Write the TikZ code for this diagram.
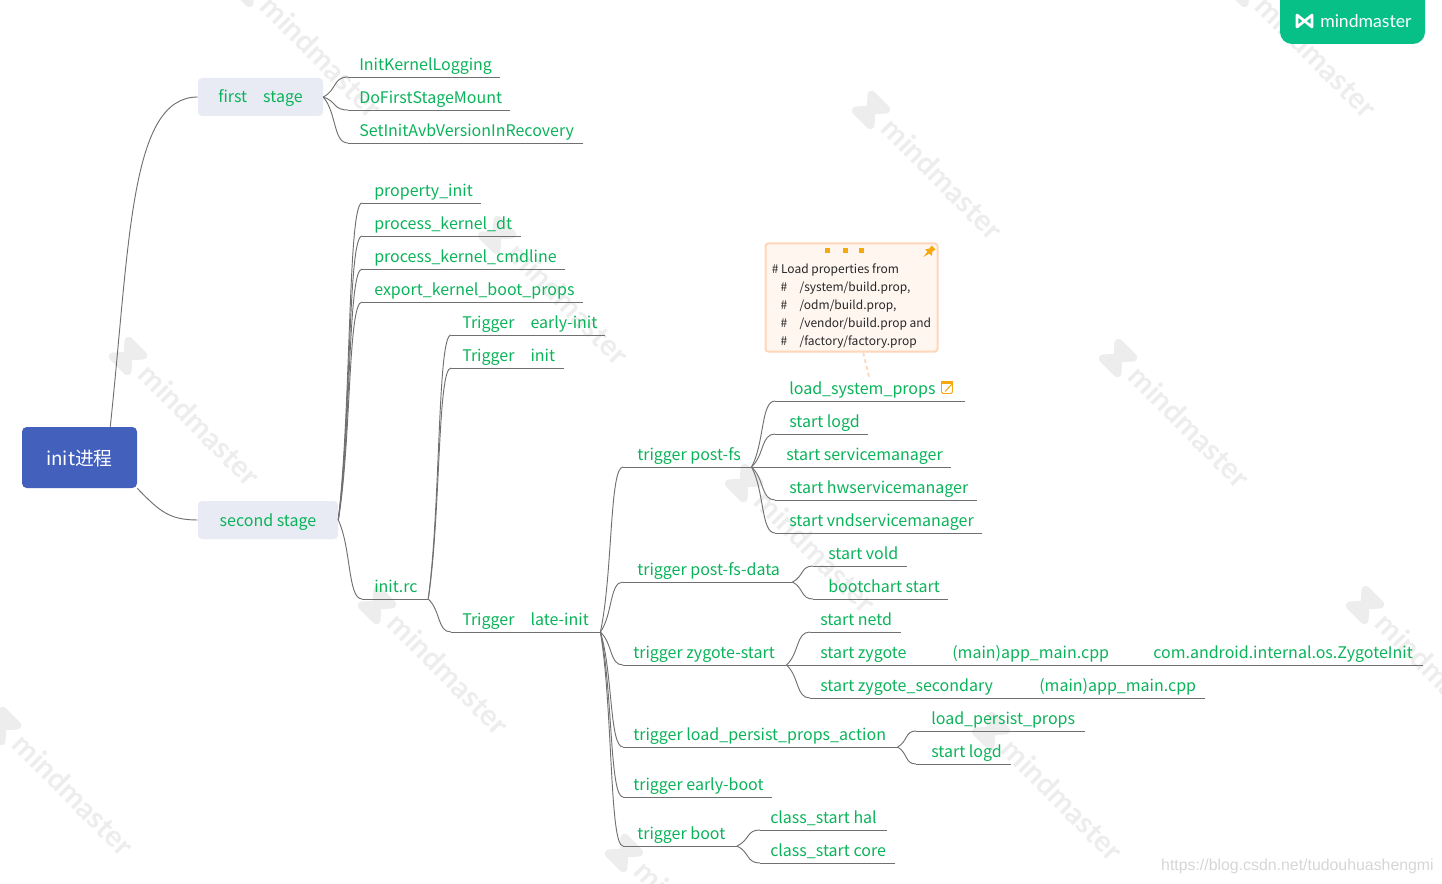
\documentclass[tikz,border=0pt]{standalone}
\usepackage{xcolor}
\usepackage{fontspec}
\usepackage{tikz}
\usetikzlibrary{calc}
\setmainfont{Noto Sans CJK SC}
\newfontfamily\markfont{Lato}
\newfontfamily\urlfont{Liberation Sans}

\definecolor{topicgreen}{HTML}{0AB35A}
\definecolor{linegray}{HTML}{707070}
\definecolor{rootblue}{HTML}{4260BC}
\definecolor{stagefill}{HTML}{E9EBF4}
\definecolor{notefill}{HTML}{FFF6F0}
\definecolor{noteline}{HTML}{FFD6B8}
\definecolor{noteorange}{HTML}{F6A90F}
\definecolor{badgegreen}{HTML}{06C088}
\definecolor{wmgray}{HTML}{EDEDED}
\definecolor{urlgray}{HTML}{D6D6D6}

\newdimen\pxu
\pxu=0.75pt

\begin{document}
\begin{tikzpicture}[x=0.75pt, y=-0.75pt]
    \tikzstyle{link} = [draw=linegray, line width=0.7pt]
    \tikzstyle{branch} = [to path={let \p1=(\tikztostart), \p2=(\tikztotarget) in
        .. controls ({\x1+0.55*(\x2-\x1)},{\y1+0.35*(\y2-\y1)}) and ({\x1+0.4*(\x2-\x1)},\y2) .. (\tikztotarget)}]
    \tikzset{leaf/.style n args={2}{anchor=south west, inner xsep=0pt, inner ysep=0pt,
        text=topicgreen, font=\fontsize{12pt}{14pt}\selectfont, text height=10pt, text depth=4.5pt,
        execute at begin node={\hspace*{#1\pxu}}, execute at end node={\hspace*{\dimexpr#2\pxu-0.5pt\relax}},
        append after command={(\tikzlastnode.south west) edge[link] (\tikzlastnode.south east)}}}
    \tikzstyle{stage} = [fill=stagefill, rounded corners=3pt, text=topicgreen, minimum height=38\pxu,
        font=\fontsize{12pt}{14pt}\selectfont, text height=11pt, text depth=2pt, inner sep=0pt]
    \tikzstyle{root} = [fill=rootblue, rounded corners=3.5pt, text=white, minimum width=115\pxu, minimum height=61\pxu,
        font=\fontsize{14.1pt}{18pt}\selectfont, text height=12.5pt, text depth=1pt, inner sep=0pt]
    \tikzstyle{notebox} = [draw=noteline, line width=1.5pt, fill=notefill, rounded corners=2pt,
        minimum width=172\pxu, minimum height=108\pxu, inner sep=0pt]
    \tikzstyle{notetext} = [anchor=west, inner sep=0pt, align=left, text=black!85,
        font=\fontsize{9pt}{13.5pt}\selectfont]
    \tikzstyle{notedot} = [fill=noteorange, minimum size=5\pxu, inner sep=0pt]
    \tikzstyle{wmtext} = [anchor=west, rotate=-45, text=wmgray, inner sep=0pt, font=\markfont\bfseries\fontsize{22.3pt}{24pt}\selectfont]
    \tikzstyle{bowtie} = [line join=round, line cap=round]

    \useasboundingbox (0,0) rectangle (1442,884);
    \clip (0,0) rectangle (1442,884);

    % watermarks
    \foreach \wx/\wy [count=\wi] in {128/356, 377/605, 624/853, 250/-12, 497/235, 744/483, 991/731,
        871/110, 1118/358, 1365/605, 2/726, 1245/-12} {
        \begin{scope}[shift={(\wx,\wy)}, rotate=45]
            \draw[bowtie, wmgray, line width=6.4pt] (-11,-10) -- (11,10) -- (11,-10) -- (-11,10) -- cycle;
        \end{scope}
        \node[wmtext] (wm\wi) at (\wx+16,\wy+13) {mindmaster};
    }

    % main branches
    \node[root] (init) at (79.5,457.5) {init进程};
    \node[stage, minimum width=125\pxu] (first) at (260.5,97) {first\quad stage};
    \node[stage, minimum width=140\pxu] (second) at (268,520) {second stage};

    \draw[link] (init.45) .. controls (130,240) and (130,97) .. (first.west);
    \draw[link] (init.south east) .. controls (160,512) and (170,520) .. (second.west);

    % first stage
    \node[leaf={11}{8}] (ikl) at (348,77) {InitKernelLogging};
    \node[leaf={11}{8}] (dfsm) at (348,110) {DoFirstStageMount};
    \node[leaf={11}{9}] (siav) at (348,143) {SetInitAvbVersionInRecovery};

    \draw[link] (first.east) to[branch] (ikl.south west);
    \draw[link] (first.east) to[branch] (dfsm.south west);
    \draw[link] (first.east) to[branch] (siav.south west);

    % second stage
    \node[leaf={12}{9}] (pinit) at (362,203) {property\_init};
    \node[leaf={12}{9}] (pkdt) at (362,236) {process\_kernel\_dt};
    \node[leaf={12}{9}] (pkcl) at (362,269) {process\_kernel\_cmdline};
    \node[leaf={12}{9}] (ekbp) at (362,302) {export\_kernel\_boot\_props};
    \node[leaf={12}{11}] (rc) at (362,599) {init.rc};

    \draw[link] (second.east) to[branch] (pinit.south west);
    \draw[link] (second.east) to[branch] (pkdt.south west);
    \draw[link] (second.east) to[branch] (pkcl.south west);
    \draw[link] (second.east) to[branch] (ekbp.south west);
    \draw[link] (second.east) to[branch] (rc.south west);

    % init.rc
    \node[leaf={11}{8}] (tei) at (451,335) {Trigger\quad early-init};
    \node[leaf={11}{9}] (ti) at (451,368) {Trigger\quad init};
    \node[leaf={11}{12}] (tli) at (451,632) {Trigger\quad late-init};

    \draw[link] (rc.south east) to[branch] (tei.south west);
    \draw[link] (rc.south east) to[branch] (ti.south west);
    \draw[link] (rc.south east) to[branch] (tli.south west);

    % late-init
    \node[leaf={14}{11}] (pfs) at (623,467) {trigger post-fs};
    \node[leaf={14}{13}] (pfsd) at (623,582) {trigger post-fs-data};
    \node[leaf={10}{12}] (zs) at (623,665) {trigger zygote-start};
    \node[leaf={10}{12}] (lppa) at (623,747) {trigger load\_persist\_props\_action};
    \node[leaf={10}{9}] (eb) at (623,797) {trigger early-boot};
    \node[leaf={14}{12}] (tb) at (623,846) {trigger boot};

    \draw[link] (tli.south east) to[branch] (pfs.south west);
    \draw[link] (tli.south east) to[branch] (pfsd.south west);
    \draw[link] (tli.south east) to[branch] (zs.south west);
    \draw[link] (tli.south east) to[branch] (lppa.south west);
    \draw[link] (tli.south east) to[branch] (eb.south west);
    \draw[link] (tli.south east) to[branch] (tb.south west);

    % post-fs
    \node[leaf={14}{30}] (lsp) at (775,401) {load\_system\_props};
    \node[leaf={14}{9}] (logd) at (775,434) {start logd};
    \node[leaf={11}{9}] (sm) at (775,467) {start servicemanager};
    \node[leaf={14}{9}] (hwsm) at (775,500) {start hwservicemanager};
    \node[leaf={14}{9}] (vsm) at (775,533) {start vndservicemanager};

    \draw[link] (pfs.south east) to[branch] (lsp.south west);
    \draw[link] (pfs.south east) to[branch] (logd.south west);
    \draw[link] (pfs.south east) -- (sm.south west);
    \draw[link] (pfs.south east) to[branch] (hwsm.south west);
    \draw[link] (pfs.south east) to[branch] (vsm.south west);

    % note of load_system_props
    \node[notebox] (note) at (851.5,297.5) {};
    \node[notetext] (notebody) at (771.5,306) {\#\ Load properties from\\
        \hspace*{6.6pt}\#\hspace*{9.3pt}/system/build.prop,\\
        \hspace*{6.6pt}\#\hspace*{9.3pt}/odm/build.prop,\\
        \hspace*{6.6pt}\#\hspace*{9.3pt}/vendor/build.prop and\\
        \hspace*{6.6pt}\#\hspace*{9.3pt}/factory/factory.prop};
    \node[notedot] (dota) at (827,251) {};
    \node[notedot] (dotb) at (845,251) {};
    \node[notedot] (dotc) at (861,251) {};
    \fill[noteorange] (923.5,257) -- (927.5,251.5) -- (925,249.5) -- (929.5,248.5) -- (931.5,245.5) -- (935.5,249.5)
        -- (932.5,251.5) -- (931.5,256) -- (929.5,253.5) -- cycle;
    \draw[noteline, line width=1.3pt, dashed, dash pattern=on 3pt off 2.2pt, shorten >=4\pxu] (note.282) -- (lsp.north);
    \node[draw=noteorange, line width=0.7pt, rounded corners=1.2pt, fill=white, minimum width=11\pxu, minimum height=12\pxu, inner sep=0pt] (memo) at (947,387.5) {};
    \fill[noteorange] (memo.north west) rectangle ($(memo.north east)+(0,3)$);
    \draw[noteorange, line width=0.8pt] (945,391.5) -- (952,384);

    % post-fs-data
    \node[leaf={15}{9}] (vold) at (813,566) {start vold};
    \node[leaf={15}{9}] (bcs) at (813,599) {bootchart start};

    \draw[link] (pfsd.south east) to[branch] (vold.south west);
    \draw[link] (pfsd.south east) to[branch] (bcs.south west);

    % zygote-start
    \node[leaf={10}{9}] (netd) at (810,632) {start netd};
    \node[leaf={10}{9}] (zyg) at (810,665) {start zygote};
    \node[leaf={10}{9}] (zygs) at (810,698) {start zygote\_secondary};
    \node[leaf={11}{9}] (app) at (941,665) {(main)app\_main.cpp};
    \node[leaf={11}{11}] (zinit) at (1142,665) {com.android.internal.os.ZygoteInit};
    \node[leaf={11}{9}] (apps) at (1028,698) {(main)app\_main.cpp};

    \draw[link] (zs.south east) to[branch] (netd.south west);
    \draw[link] (zs.south east) -- (zyg.south west);
    \draw[link] (zs.south east) to[branch] (zygs.south west);
    \draw[link] (zyg.south east) -- (app.south west);
    \draw[link] (app.south east) -- (zinit.south west);
    \draw[link] (zygs.south east) -- (apps.south west);

    % load_persist_props_action
    \node[leaf={15}{10}] (lpp) at (916,731) {load\_persist\_props};
    \node[leaf={15}{10}] (logdb) at (916,764) {start logd};

    \draw[link] (lppa.south east) to[branch] (lpp.south west);
    \draw[link] (lppa.south east) to[branch] (logdb.south west);

    % boot
    \node[leaf={10}{11}] (hal) at (760,830) {class\_start hal};
    \node[leaf={10}{10}] (core) at (760,863) {class\_start core};

    \draw[link] (tb.south east) to[branch] (hal.south west);
    \draw[link] (tb.south east) to[branch] (core.south west);

    % badge and url
    \fill[badgegreen, rounded corners=9pt] (1280,-30) rectangle (1425,44);
    \draw[bowtie, white, line width=2pt] (1297,15) -- (1312,27) -- (1312,15) -- (1297,27) -- cycle;
    \node[anchor=west, inner sep=0pt, text=white, font=\markfont\fontsize{13.2pt}{15pt}\selectfont] (badge) at (1320,21) {mindmaster};
    \node[anchor=east, inner sep=0pt, text=urlgray, font=\urlfont\fontsize{11.9pt}{14pt}\selectfont] (url) at (1434,866) {https://blog.csdn.net/tudouhuashengmi};
\end{tikzpicture}
\end{document}
